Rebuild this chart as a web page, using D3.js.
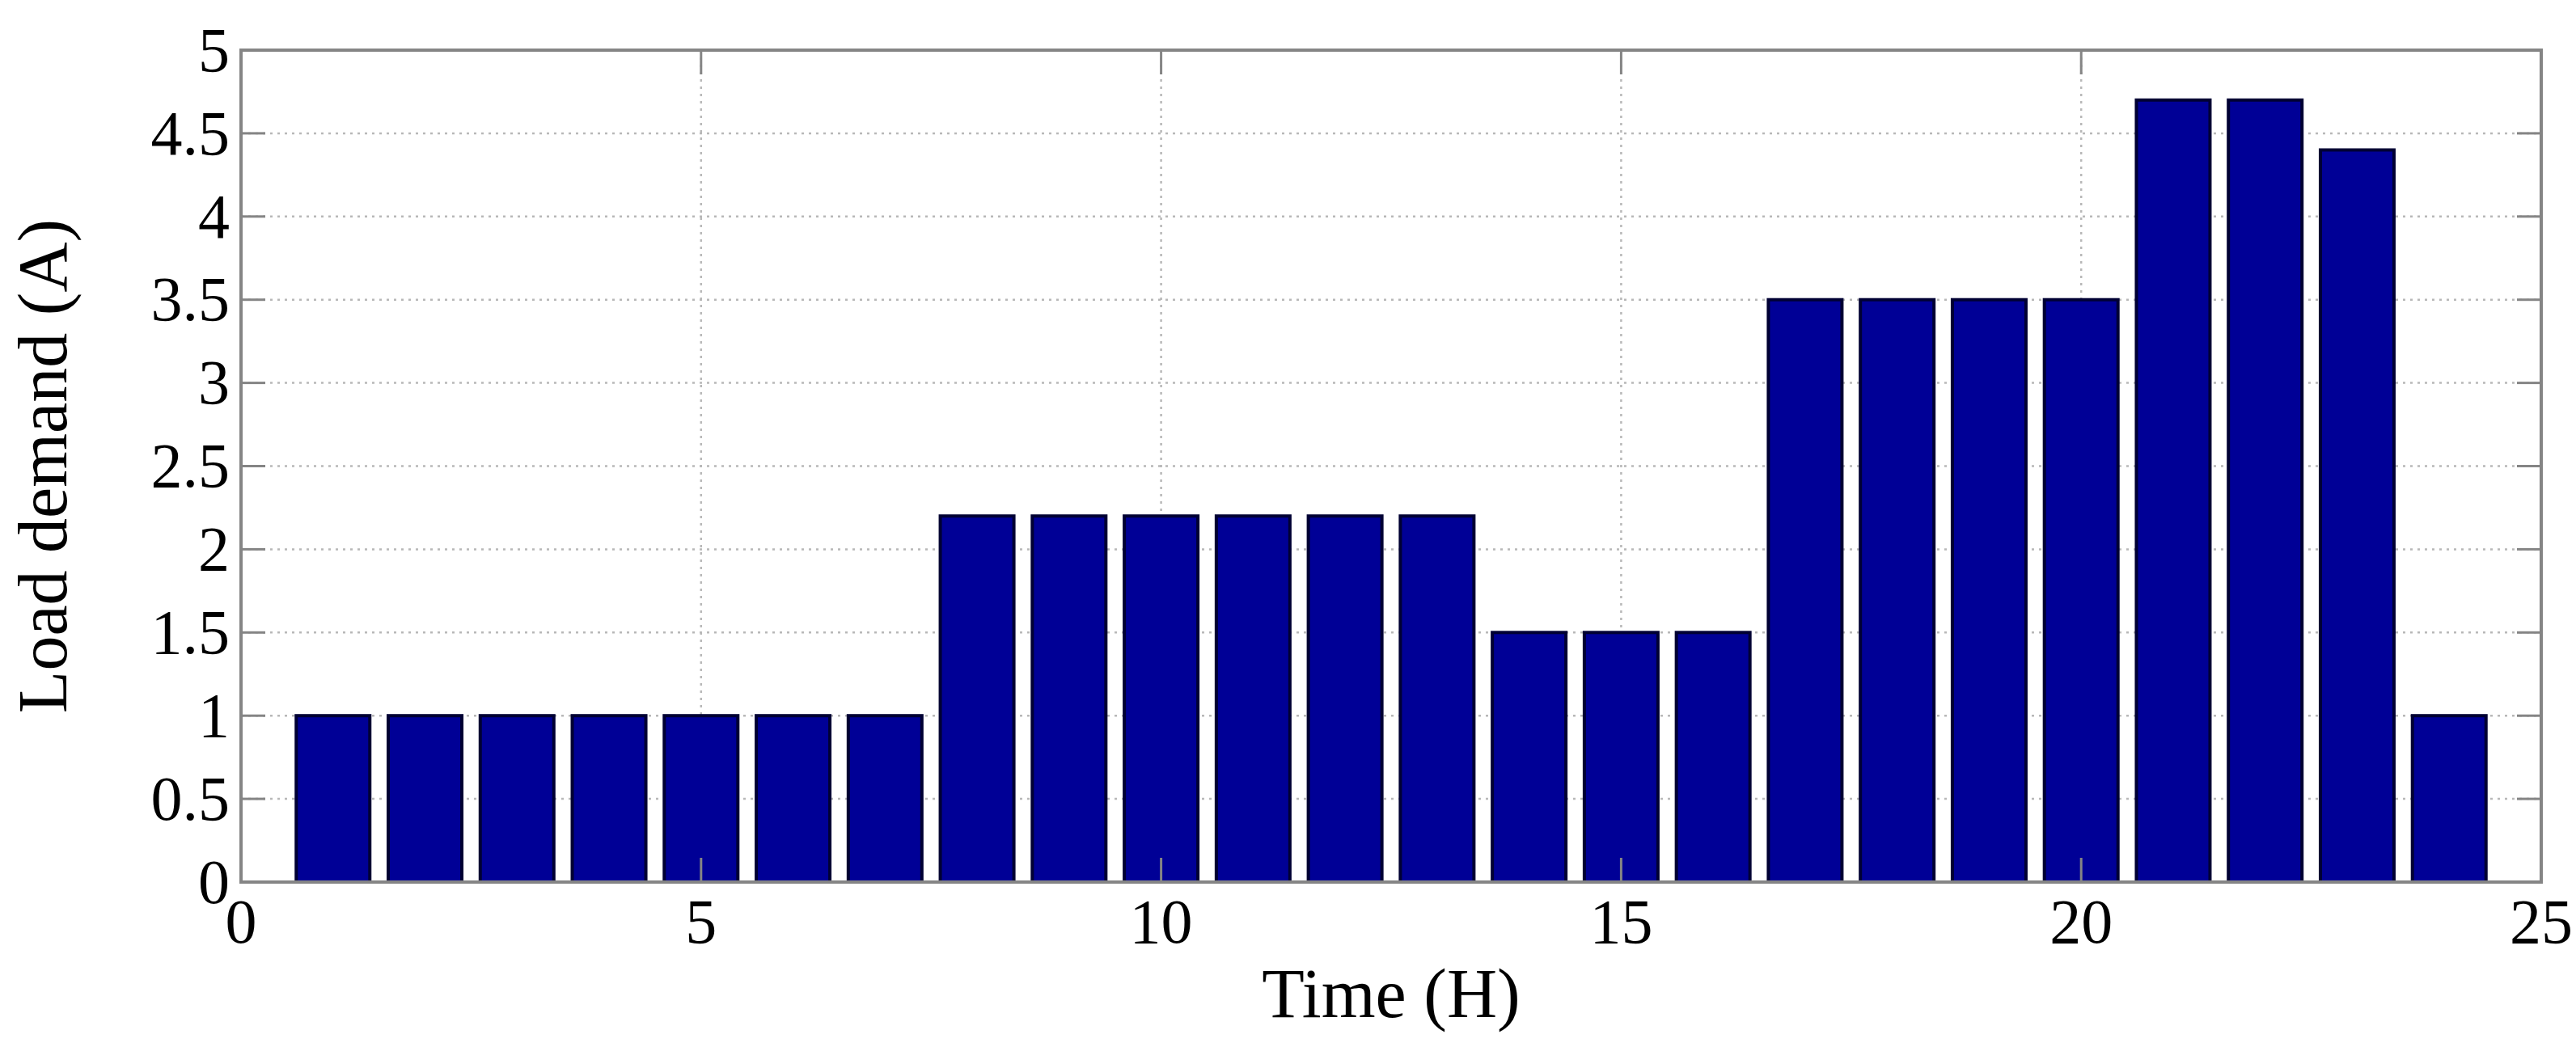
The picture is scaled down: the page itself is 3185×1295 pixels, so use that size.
<!DOCTYPE html>
<html><head><meta charset="utf-8">
<script src="https://cdn.jsdelivr.net/npm/d3@7/dist/d3.min.js"></script>
<style>html,body{margin:0;padding:0;background:#fff;}svg{display:block;}</style>
</head><body>
<svg id="chart" width="3185" height="1295"></svg>
<script>
const hours = [1,2,3,4,5,6,7,8,9,10,11,12,13,14,15,16,17,18,19,20,21,22,23,24];
const demand = [1,1,1,1,1,1,1,2.2,2.2,2.2,2.2,2.2,2.2,1.5,1.5,1.5,3.5,3.5,3.5,3.5,4.7,4.7,4.4,1];
const xTicks = [0,5,10,15,20,25];
const yTicks = [0,0.5,1,1.5,2,2.5,3,3.5,4,4.5,5];
const xLabel = "Time (H)";
const yLabel = "Load demand (A)";

const svg = d3.select("#chart");
const L = 298, R = 3142, T = 62, B = 1091;
const x = d3.scaleLinear().domain([0,25]).range([L,R]);
const y = d3.scaleLinear().domain([0,5]).range([B,T]);
const font = "'Liberation Serif','Times New Roman',serif";
const axisColor = "#858585";

// grid
const g = svg.append("g");
g.selectAll(".gy").data(yTicks.filter(d=>d>0&&d<5)).enter().append("line")
  .attr("x1",L).attr("x2",R).attr("y1",d=>y(d)).attr("y2",d=>y(d))
  .attr("stroke","#b8b8b8").attr("stroke-width",2.5).attr("stroke-dasharray","3,6");
g.selectAll(".gx").data(xTicks.filter(d=>d>0&&d<25)).enter().append("line")
  .attr("y1",T).attr("y2",B).attr("x1",d=>x(d)).attr("x2",d=>x(d))
  .attr("stroke","#b8b8b8").attr("stroke-width",2.5).attr("stroke-dasharray","3,6");

// bars
const bw = 0.8;
svg.append("g").selectAll("rect").data(hours).enter().append("rect")
  .attr("x",(d)=>x(d-bw/2))
  .attr("width",x(bw)-x(0))
  .attr("y",(d,i)=>y(demand[i]))
  .attr("height",(d,i)=>y(0)-y(demand[i]))
  .attr("fill","#000096").attr("stroke","#000033").attr("stroke-width",4);

// ticks inside (all four sides)
const tk = svg.append("g").attr("stroke",axisColor).attr("stroke-width",3);
yTicks.forEach(v=>{
  tk.append("line").attr("x1",L).attr("x2",L+30).attr("y1",y(v)).attr("y2",y(v));
  tk.append("line").attr("x1",R-30).attr("x2",R).attr("y1",y(v)).attr("y2",y(v));
});
xTicks.forEach(v=>{
  tk.append("line").attr("y1",B).attr("y2",B-30).attr("x1",x(v)).attr("x2",x(v));
  tk.append("line").attr("y1",T).attr("y2",T+30).attr("x1",x(v)).attr("x2",x(v));
});

// box
svg.append("rect").attr("x",L).attr("y",T).attr("width",R-L).attr("height",B-T)
  .attr("fill","none").attr("stroke",axisColor).attr("stroke-width",4);

// tick labels
svg.append("g").selectAll("text").data(yTicks).enter().append("text")
  .attr("x",L-14).attr("y",d=>y(d)).attr("dy","0.33em")
  .attr("text-anchor","end").attr("font-family",font).attr("font-size",78)
  .attr("fill","#000").text(d=>d);
svg.append("g").selectAll("text").data(xTicks).enter().append("text")
  .attr("x",d=>x(d)).attr("y",B+75)
  .attr("text-anchor","middle").attr("font-family",font).attr("font-size",78)
  .attr("fill","#000").text(d=>d);

// axis labels
svg.append("text").attr("x",(L+R)/2).attr("y",1258)
  .attr("text-anchor","middle").attr("font-family",font).attr("font-size",86)
  .attr("fill","#000").text(xLabel);
svg.append("text").attr("transform",`translate(82,${(T+B)/2+0}) rotate(-90)`)
  .attr("text-anchor","middle").attr("font-family",font).attr("font-size",86)
  .attr("fill","#000").text(yLabel);
</script>
</body></html>
